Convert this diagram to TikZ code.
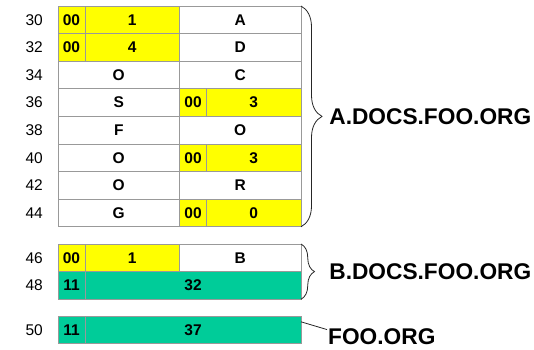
\documentclass[tikz,border=0pt]{standalone}
\usepackage{fontspec}
\setmainfont{Liberation Sans}
\usetikzlibrary{positioning, decorations.pathreplacing}
\definecolor{amarilloCelda}{HTML}{FFFF00}
\definecolor{verdeCelda}{HTML}{00CC99}
\definecolor{grisRejilla}{HTML}{999999}
\colorlet{colTexto}{black}
\colorlet{colLlave}{black!85}
\tikzset{
  celdaBase/.style={
    draw=grisRejilla, line width=0.8pt, fill=white,
    inner sep=0pt, outer sep=0pt, minimum height=27.6pt,
    font=\bfseries\fontsize{15.5}{18}\selectfont, text=colTexto
  },
  celdaAmarilla/.style={celdaBase, fill=amarilloCelda},
  celdaVerde/.style={celdaBase, fill=verdeCelda},
  anchoChico/.style={minimum width=27pt},
  anchoMedio/.style={minimum width=94.5pt},
  anchoMitad/.style={minimum width=121.5pt},
  anchoLargo/.style={minimum width=216pt},
  etiquetaFila/.style={font=\fontsize{15.5}{18}\selectfont, inner sep=0pt, text=colTexto},
  etiquetaDominio/.style={font=\bfseries\fontsize{22.7}{26}\selectfont, inner sep=0pt, text=colTexto},
  llave/.style={decorate, decoration={brace, amplitude=#1}, draw=colLlave, line width=0.8pt},
  llave/.default=21pt,
  linea/.style={draw=colLlave, line width=0.8pt},
}

\begin{document}
\begin{tikzpicture}[x=1pt, y=-1pt]
    \useasboundingbox (0,0) rectangle (534,349);
    % A.DOCS.FOO.ORG
    \node[celdaAmarilla, anchoChico, anchor=north west] (f30a) at (58,6) {00};
    \node[celdaAmarilla, anchoMedio, right=0pt of f30a] (f30b) {1};
    \node[celdaBase, anchoMitad, right=0pt of f30b] (f30c) {A};
    \node[celdaAmarilla, anchoChico, anchor=north west] (f32a) at (58,33.6) {00};
    \node[celdaAmarilla, anchoMedio, right=0pt of f32a] (f32b) {4};
    \node[celdaBase, anchoMitad, right=0pt of f32b] (f32c) {D};
    \node[celdaBase, anchoMitad, anchor=north west] (f34a) at (58,61.2) {O};
    \node[celdaBase, anchoMitad, right=0pt of f34a] (f34b) {C};
    \node[celdaBase, anchoMitad, anchor=north west] (f36a) at (58,88.8) {S};
    \node[celdaAmarilla, anchoChico, right=0pt of f36a] (f36b) {00};
    \node[celdaAmarilla, anchoMedio, right=0pt of f36b] (f36c) {3};
    \node[celdaBase, anchoMitad, anchor=north west] (f38a) at (58,116.4) {F};
    \node[celdaBase, anchoMitad, right=0pt of f38a] (f38b) {O};
    \node[celdaBase, anchoMitad, anchor=north west] (f40a) at (58,144) {O};
    \node[celdaAmarilla, anchoChico, right=0pt of f40a] (f40b) {00};
    \node[celdaAmarilla, anchoMedio, right=0pt of f40b] (f40c) {3};
    \node[celdaBase, anchoMitad, anchor=north west] (f42a) at (58,171.6) {O};
    \node[celdaBase, anchoMitad, right=0pt of f42a] (f42b) {R};
    \node[celdaBase, anchoMitad, anchor=north west] (f44a) at (58,199.2) {G};
    \node[celdaAmarilla, anchoChico, right=0pt of f44a] (f44b) {00};
    \node[celdaAmarilla, anchoMedio, right=0pt of f44b] (f44c) {0};
    % B.DOCS.FOO.ORG
    \node[celdaAmarilla, anchoChico, anchor=north west] (f46a) at (58,244) {00};
    \node[celdaAmarilla, anchoMedio, right=0pt of f46a] (f46b) {1};
    \node[celdaBase, anchoMitad, right=0pt of f46b] (f46c) {B};
    \node[celdaVerde, anchoChico, anchor=north west] (f48a) at (58,271.6) {11};
    \node[celdaVerde, anchoLargo, right=0pt of f48a] (f48b) {32};
    % FOO.ORG
    \node[celdaVerde, anchoChico, anchor=north west] (f50a) at (58,316) {11};
    \node[celdaVerde, anchoLargo, right=0pt of f50a] (f50b) {37};
    % direcciones
    \node[etiquetaFila, left=15pt of f30a] (n30) {30};
    \node[etiquetaFila, left=15pt of f32a] (n32) {32};
    \node[etiquetaFila, left=15pt of f34a] (n34) {34};
    \node[etiquetaFila, left=15pt of f36a] (n36) {36};
    \node[etiquetaFila, left=15pt of f38a] (n38) {38};
    \node[etiquetaFila, left=15pt of f40a] (n40) {40};
    \node[etiquetaFila, left=15pt of f42a] (n42) {42};
    \node[etiquetaFila, left=15pt of f44a] (n44) {44};
    \node[etiquetaFila, left=15pt of f46a] (n46) {46};
    \node[etiquetaFila, left=15pt of f48a] (n48) {48};
    \node[etiquetaFila, left=15pt of f50a] (n50) {50};
    % llaves y nombres
    \draw[llave] (f30c.north east) -- (f44c.south east)
      node[etiquetaDominio, midway, right=28pt] (dominioA) {A.DOCS.FOO.ORG};
    \draw[llave=13.5pt] (f46c.north east) -- (f48b.south east)
      node[etiquetaDominio, midway, right=28pt] (dominioB) {B.DOCS.FOO.ORG};
    \node[etiquetaDominio, right=27pt of f50b, yshift=-6.5pt] (dominioRaiz) {FOO.ORG};
    \draw[linea] ([yshift=8pt]f50b.east) -- ([xshift=-1pt, yshift=-1.5pt]dominioRaiz.north west);
  \end{tikzpicture}
\end{document}
